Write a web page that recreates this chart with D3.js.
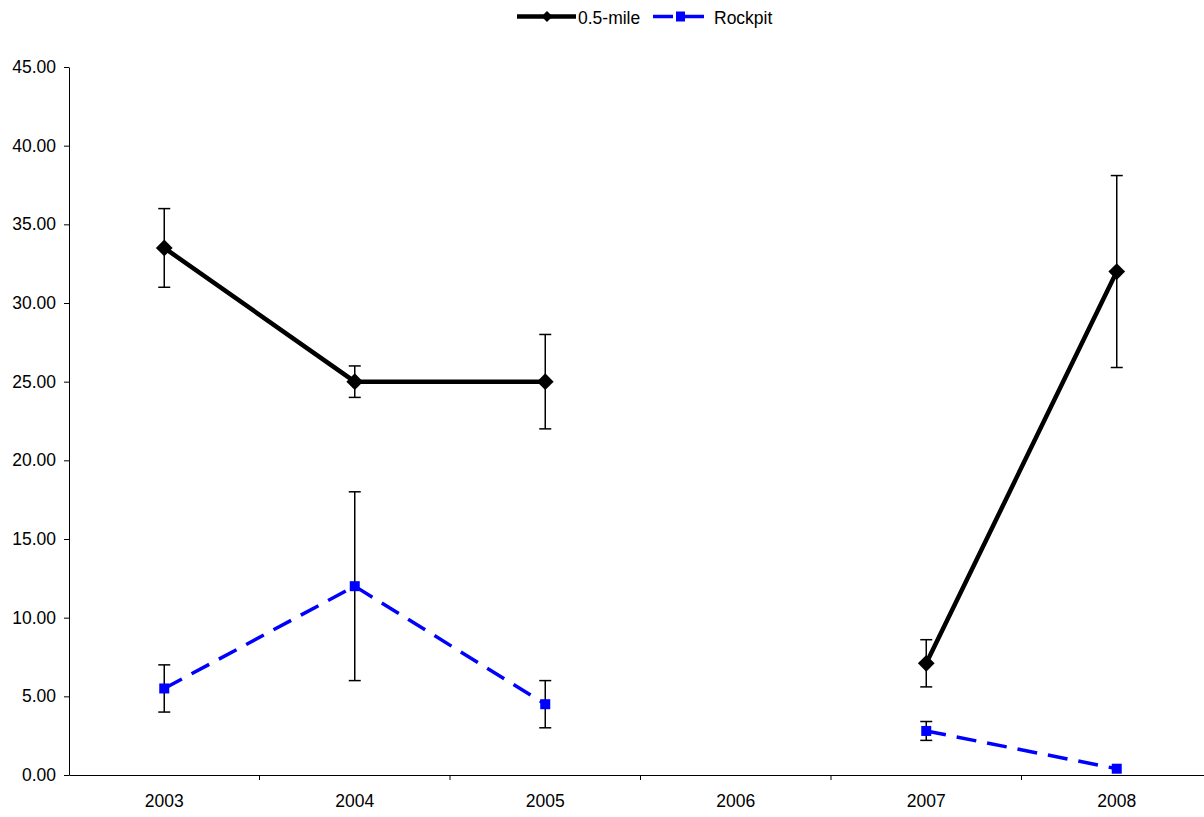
<!DOCTYPE html>
<html><head><meta charset="utf-8">
<script src="https://cdn.jsdelivr.net/npm/d3@7"></script>
<style>body{margin:0;background:#fff;} text{font-family:"Liberation Sans",Arial,sans-serif;}</style>
</head><body>
<svg id="c" width="1204" height="817"></svg>
<script>
const years = ["2003","2004","2005","2006","2007","2008"];
const halfMile = [33.5, 25.0, 25.0, null, 7.1, 32.0];
const halfMileHi = [36.0, 26.0, 28.0, null, 8.6, 38.1];
const halfMileLo = [31.0, 24.0, 22.0, null, 5.6, 25.9];
const rockpit = [5.5, 12.0, 4.5, null, 2.8, 0.4];
const rockpitHi = [7.0, 18.0, 6.0, null, 3.4, null];
const rockpitLo = [4.0, 6.0, 3.0, null, 2.2, null];
const yTicks = [0,5,10,15,20,25,30,35,40,45];

(function(){
const svg = d3.select("#c");
const pL = 69, pR = 1212, pT = 67, pB = 775;
const FS = 17.5;
const x = d3.scaleBand().domain(years).range([pL, pR]);
const y = d3.scaleLinear().domain([0,45]).range([pB, pT]);
const cx = d => x(d) + x.bandwidth()/2;

// y axis
const ya = svg.append("g").attr("transform",`translate(${pL},0)`)
  .call(d3.axisLeft(y).tickValues(yTicks).tickFormat(d3.format(".2f")).tickSize(5).tickSizeOuter(0));
ya.attr("font-size",FS);
ya.select(".domain").attr("stroke","#000");
ya.selectAll("text").attr("font-size",FS).attr("fill","#000").attr("x",-13);
// x axis
const xa = svg.append("g").attr("transform",`translate(0,${pB})`)
  .call(d3.axisBottom(x).tickSize(0).tickSizeOuter(0));
xa.attr("font-size",FS);
xa.select(".domain").attr("stroke","#000");
xa.selectAll("text").attr("font-size",FS).attr("fill","#000").attr("dy","0").attr("y",32);
// x tick marks at band boundaries
svg.append("g").selectAll("line").data(years.slice(1)).join("line")
  .attr("x1",d=>x(d)).attr("x2",d=>x(d)).attr("y1",pB).attr("y2",pB+5).attr("stroke","#000");

function errBars(hi, lo){
  const g = svg.append("g").attr("stroke","#000").attr("stroke-width",1.5);
  years.forEach((yr,i)=>{
    if(hi[i]==null) return;
    const X = cx(yr);
    g.append("line").attr("x1",X).attr("x2",X).attr("y1",y(hi[i])).attr("y2",y(lo[i]));
    g.append("line").attr("x1",X-6).attr("x2",X+6).attr("y1",y(hi[i])).attr("y2",y(hi[i]));
    g.append("line").attr("x1",X-6).attr("x2",X+6).attr("y1",y(lo[i])).attr("y2",y(lo[i]));
  });
}
errBars(halfMileHi, halfMileLo);
errBars(rockpitHi, rockpitLo);

const line = d3.line().defined(d=>d.v!=null).x(d=>cx(d.k)).y(d=>y(d.v));
const hm = years.map((k,i)=>({k,v:halfMile[i]}));
const rp = years.map((k,i)=>({k,v:rockpit[i]}));

svg.append("path").datum(hm).attr("d",line).attr("fill","none").attr("stroke","#000").attr("stroke-width",4.5);
svg.append("path").datum(rp).attr("d",line).attr("fill","none").attr("stroke","#0000ff").attr("stroke-width",3.5).attr("stroke-dasharray","20,11");

const diamond = d3.symbol().type(d3.symbolSquare).size(140);
svg.append("g").selectAll("path").data(hm.filter(d=>d.v!=null)).join("path")
  .attr("d",diamond).attr("transform",d=>`translate(${cx(d.k)},${y(d.v)}) rotate(45)`).attr("fill","#000");
svg.append("g").selectAll("rect").data(rp.filter(d=>d.v!=null)).join("rect")
  .attr("x",d=>cx(d.k)-5).attr("y",d=>y(d.v)-5).attr("width",10).attr("height",10).attr("fill","#0000ff");

// legend
const lg = svg.append("g");
const ly = 16.5;
lg.append("line").attr("x1",517).attr("x2",576).attr("y1",ly).attr("y2",ly).attr("stroke","#000").attr("stroke-width",4.5);
lg.append("path").attr("d",d3.symbol().type(d3.symbolSquare).size(60)).attr("transform",`translate(547,${ly}) rotate(45)`).attr("fill","#000");
lg.append("text").attr("x",578).attr("y",24).attr("font-size",FS).text("0.5-mile");
lg.append("line").attr("x1",653).attr("x2",710).attr("y1",ly).attr("y2",ly).attr("stroke","#0000ff").attr("stroke-width",3.5).attr("stroke-dasharray","20,11");
lg.append("rect").attr("x",676).attr("y",ly-5).attr("width",9).attr("height",10).attr("fill","#0000ff");
lg.append("text").attr("x",714).attr("y",24).attr("font-size",FS).text("Rockpit");
})();
</script>
</body></html>
